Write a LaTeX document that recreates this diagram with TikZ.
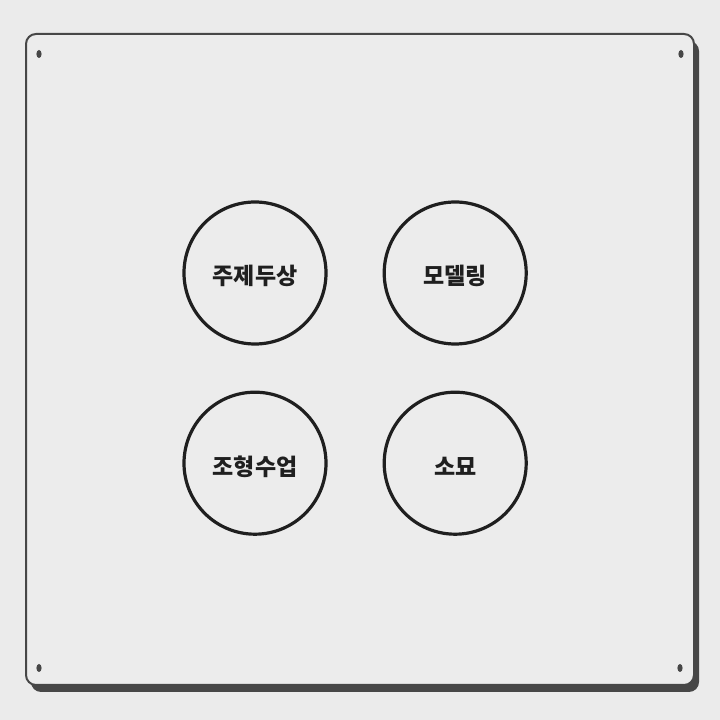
\documentclass[tikz,border=0pt]{standalone}
\usepackage{fontspec}
\usepackage{tikz}
\usetikzlibrary{positioning}
\newfontfamily\krfont{Noto Sans CJK KR}[BoldFont={* Black}]
\definecolor{paper}{HTML}{EBEBEB}
\definecolor{boardfill}{HTML}{ECECEC}
\definecolor{boardline}{HTML}{474747}
\definecolor{circleline}{HTML}{1F1F1F}
\tikzset{topic circle/.style={
    circle, draw=circleline, line width=3.2pt,
    minimum size=142pt, inner sep=0pt,
    text=circleline, text height=25pt, text depth=1pt,
    font=\krfont\bfseries\fontsize{23}{23}\selectfont
  },
  pin dot/.style={fill=boardline}
}

\begin{document}
\begin{tikzpicture}[x=1pt,y=1pt,node distance=55pt]
    \useasboundingbox[fill=paper] (0,0) rectangle (720,720);
    % board with shadow
    \fill[boardline, rounded corners=10pt] (31,28) rectangle (699,679);
    \draw[boardline, fill=boardfill, line width=2pt, rounded corners=10pt]
        (26,35) rectangle (694,686);
    \foreach \px/\py in {39/666, 681/666, 39/52, 680/52}
        \fill[pin dot] (\px,\py) ellipse [x radius=2.6, y radius=4];
    % topics
    \node[topic circle] (bust) at (255,447) {주제두상};
    \node[topic circle, right=55pt of bust] (modeling) {모델링};
    \node[topic circle, below=45pt of bust] (forming) {조형수업};
    \node[topic circle, below=45pt of modeling] (sketch) {소묘};
\end{tikzpicture}
\end{document}
